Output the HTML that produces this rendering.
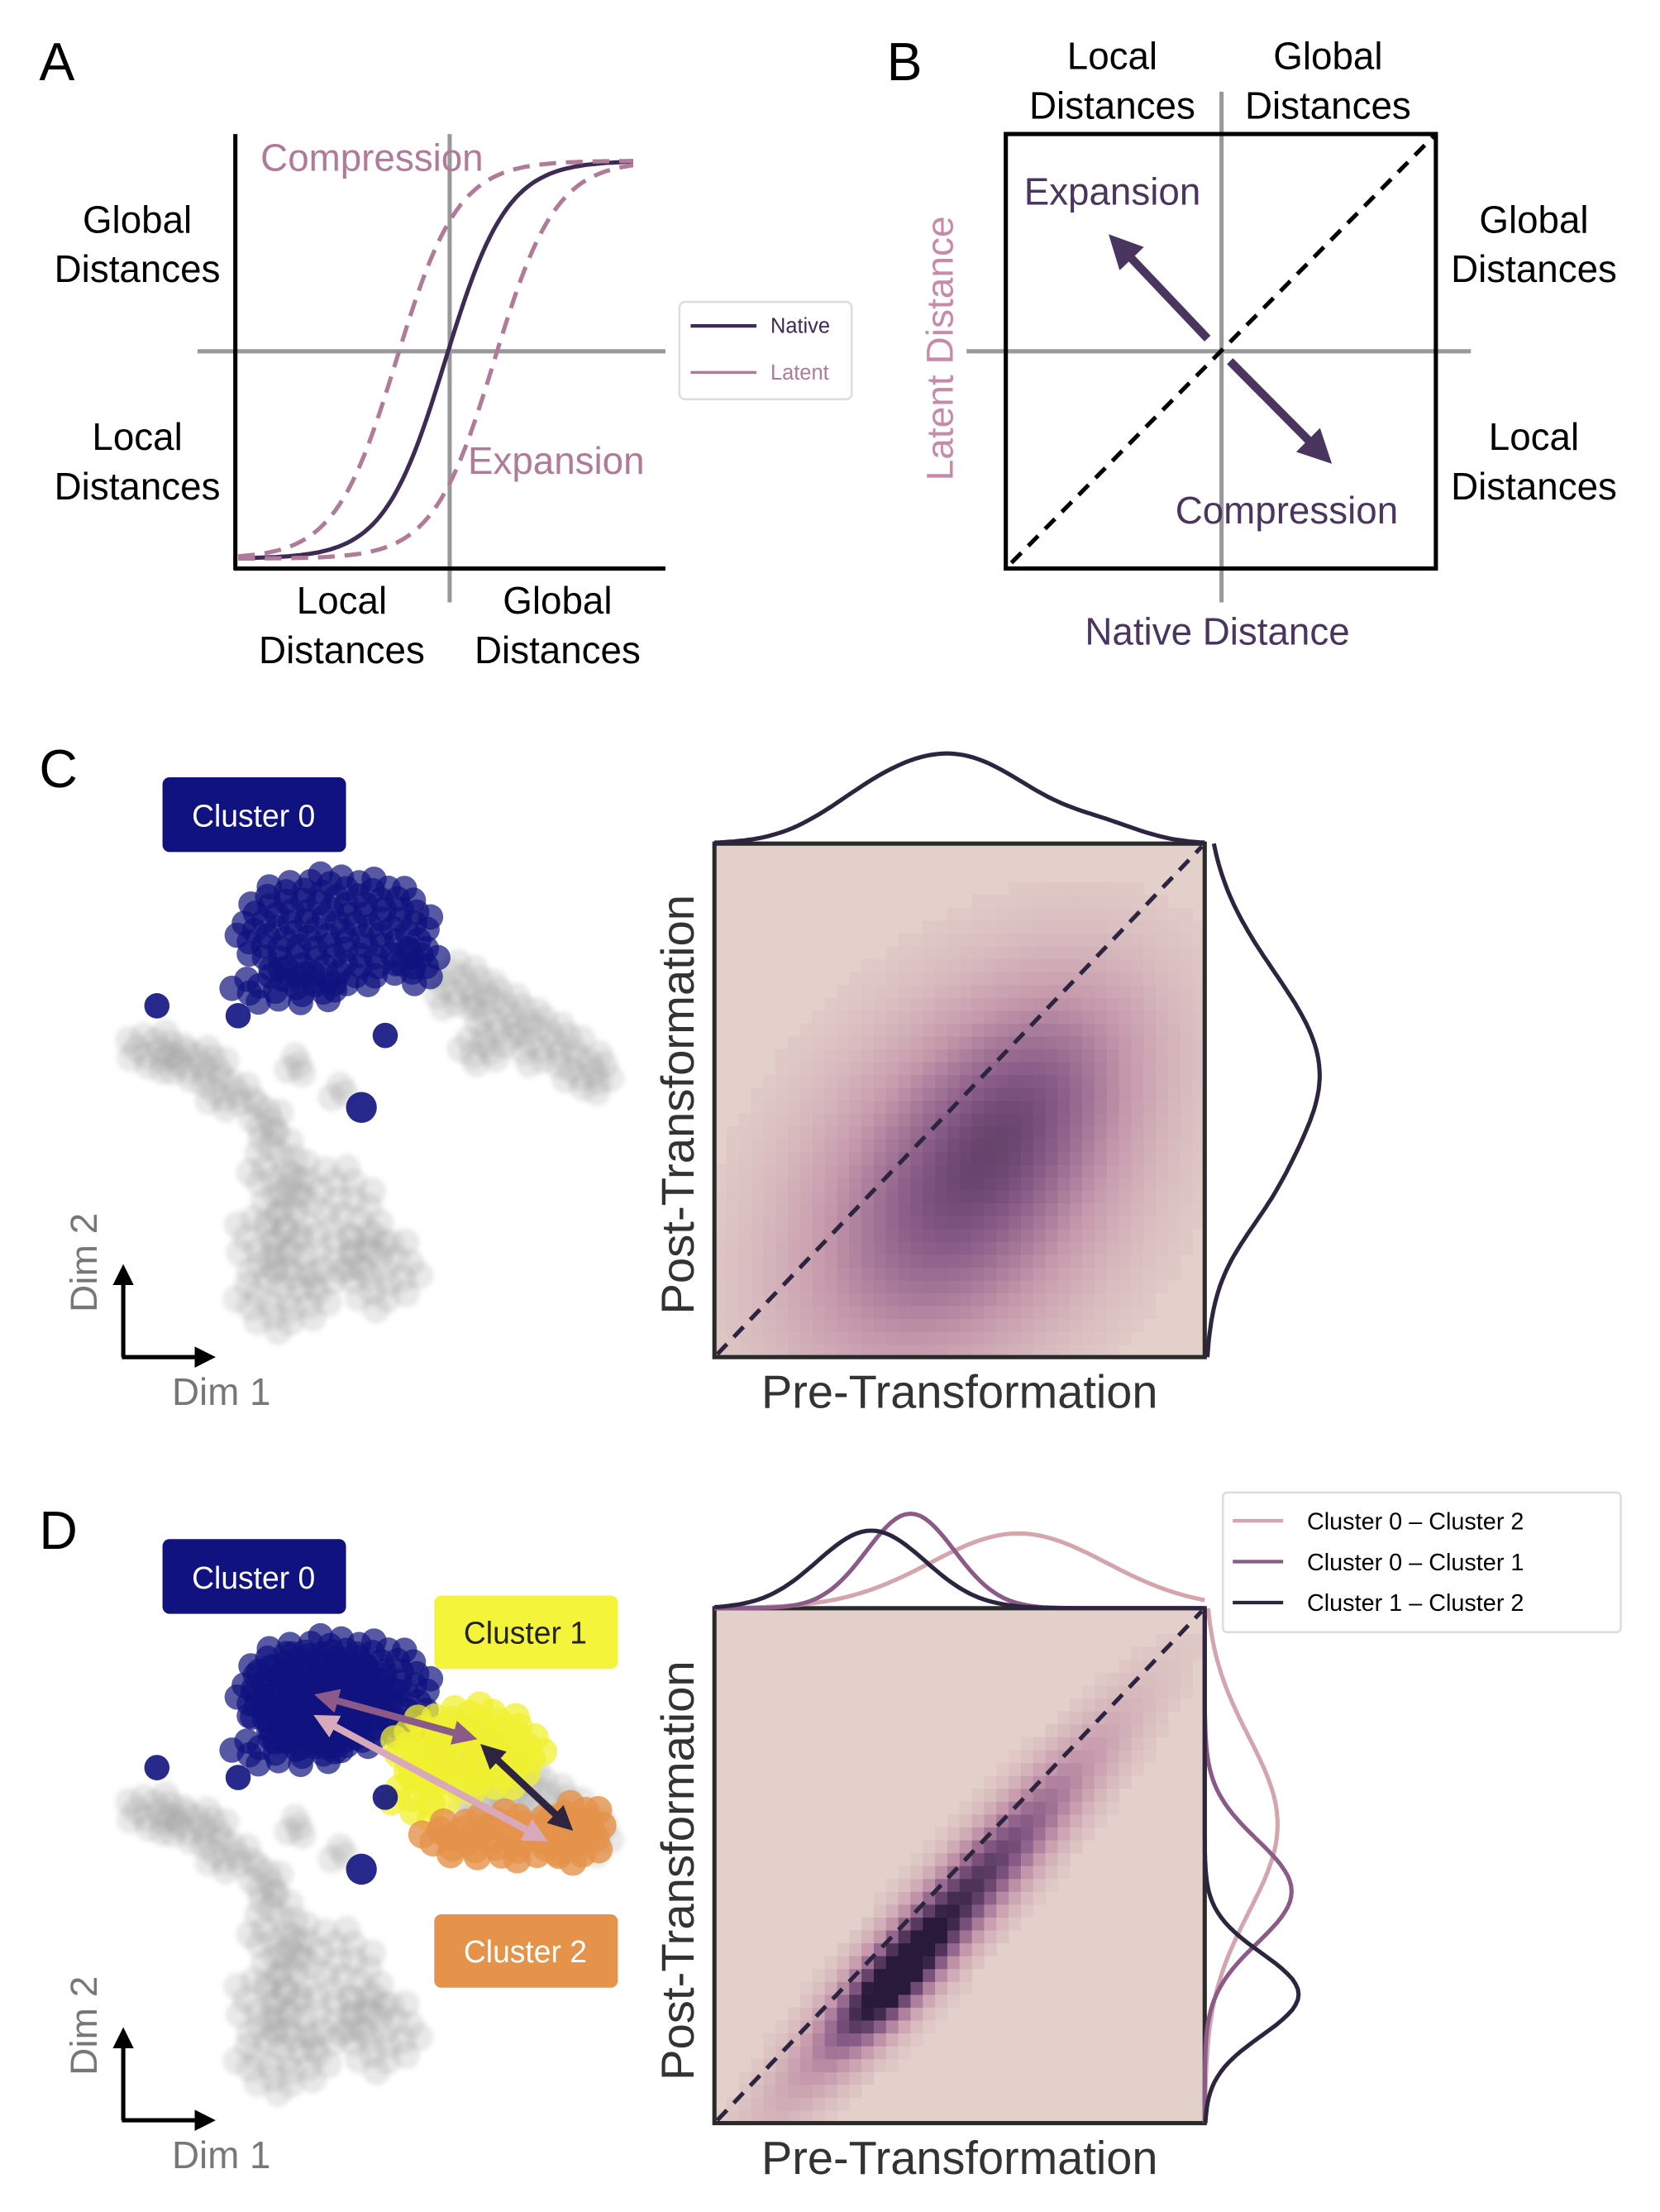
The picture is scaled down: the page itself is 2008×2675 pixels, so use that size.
<!DOCTYPE html>
<html><head><meta charset="utf-8">
<style>
html,body{margin:0;padding:0;background:#fff;}
svg{display:block;font-family:"Liberation Sans",sans-serif;}
</style></head>
<body>
<svg id="fig" width="2008" height="2675" viewBox="0 0 1185 1568" preserveAspectRatio="none" xmlns="http://www.w3.org/2000/svg">
<defs>
<marker id="ahd" viewBox="0 0 10 10" refX="6" refY="5" markerWidth="4" markerHeight="4" orient="auto-start-reverse"><path d="M0,0 L10,5 L0,10 z" fill="#4a3560"/></marker>
<marker id="ahk" viewBox="0 0 10 10" refX="6" refY="5" markerWidth="5" markerHeight="5" orient="auto-start-reverse"><path d="M0,0 L10,5 L0,10 z" fill="#000"/></marker>
<marker id="ap1" viewBox="0 0 10 10" refX="6" refY="5" markerWidth="3.5" markerHeight="3.5" orient="auto-start-reverse"><path d="M0,0 L10,5 L0,10 z" fill="#d8a9bb"/></marker>
<marker id="ap2" viewBox="0 0 10 10" refX="6" refY="5" markerWidth="3.5" markerHeight="3.5" orient="auto-start-reverse"><path d="M0,0 L10,5 L0,10 z" fill="#8b5a88"/></marker>
<marker id="ap3" viewBox="0 0 10 10" refX="6" refY="5" markerWidth="3.5" markerHeight="3.5" orient="auto-start-reverse"><path d="M0,0 L10,5 L0,10 z" fill="#2d2440"/></marker>
<filter id="soft"><feGaussianBlur stdDeviation="1.5"/></filter>
</defs>

<g>
<text x="28" y="57" font-size="38">A</text>
<line x1="321" y1="95" x2="321" y2="427" stroke="#999" stroke-width="3"/>
<line x1="141" y1="249" x2="475" y2="249" stroke="#999" stroke-width="3"/>
<line x1="168" y1="95" x2="168" y2="404" stroke="#000" stroke-width="3"/>
<line x1="167" y1="403" x2="475" y2="403" stroke="#000" stroke-width="3"/>
<g id="acurves"></g>
<text x="186" y="121" font-size="27" fill="#b07a98">Compression</text>
<text x="334" y="336" font-size="27" fill="#b07a98">Expansion</text>
<g font-size="27" text-anchor="middle" fill="#000">
<text x="98" y="165">Global</text>
<text x="98" y="200">Distances</text>
<text x="98" y="319">Local</text>
<text x="98" y="354">Distances</text>
<text x="244" y="435">Local</text>
<text x="244" y="470">Distances</text>
<text x="398" y="435">Global</text>
<text x="398" y="470">Distances</text>
</g>
<g>
<rect x="485" y="214" width="123" height="69" rx="4" fill="#fff" stroke="#ddd" stroke-width="1.5"/>
<line x1="493" y1="231" x2="540" y2="231" stroke="#3d2a55" stroke-width="2.5"/>
<text x="550" y="236" font-size="15" fill="#3d2a55">Native</text>
<line x1="493" y1="264" x2="540" y2="264" stroke="#b07a98" stroke-width="2"/>
<text x="550" y="269" font-size="15" fill="#b07a98">Latent</text>
</g>
</g>

<g>
<text x="633" y="57" font-size="38">B</text>
<line x1="872" y1="65" x2="872" y2="427" stroke="#999" stroke-width="3"/>
<line x1="690" y1="249" x2="1050" y2="249" stroke="#999" stroke-width="3"/>
<rect x="718" y="95" width="307" height="308" fill="none" stroke="#000" stroke-width="3"/>
<line x1="722" y1="399" x2="1024" y2="96" stroke="#000" stroke-width="3" stroke-dasharray="10,7"/>
<line x1="862" y1="240" x2="798" y2="173" stroke="#4a3560" stroke-width="6" marker-end="url(#ahd)"/>
<line x1="878" y1="256" x2="944" y2="322" stroke="#4a3560" stroke-width="6" marker-end="url(#ahd)"/>
<g font-size="27" text-anchor="middle">
<text x="794" y="49">Local</text>
<text x="794" y="84">Distances</text>
<text x="948" y="49">Global</text>
<text x="948" y="84">Distances</text>
<text x="1095" y="165">Global</text>
<text x="1095" y="200">Distances</text>
<text x="1095" y="319">Local</text>
<text x="1095" y="354">Distances</text>
<text x="869" y="457" fill="#4a3560">Native Distance</text>
<text transform="translate(680,247) rotate(-90)" fill="#c98aaa">Latent Distance</text>
</g>
<text x="731" y="145" font-size="27" fill="#4a3560">Expansion</text>
<text x="839" y="371" font-size="27" fill="#4a3560">Compression</text>
</g>

<g>
<text x="28" y="558" font-size="38">C</text>
<g id="scatC"></g>
<rect x="116" y="551" width="131" height="53" rx="5" fill="#10137f"/>
<text x="181" y="586" font-size="22" fill="#fff" text-anchor="middle">Cluster 0</text>
<g>
<line x1="88" y1="962" x2="88" y2="902" stroke="#000" stroke-width="3" marker-end="url(#ahk)"/>
<line x1="87" y1="962" x2="148" y2="962" stroke="#000" stroke-width="3" marker-end="url(#ahk)"/>
<text transform="translate(69,895) rotate(-90)" font-size="27" fill="#777" text-anchor="middle">Dim 2</text>
<text x="158" y="996" font-size="27" fill="#777" text-anchor="middle">Dim 1</text>
</g>
<g id="heatC"></g>
<text x="685" y="998" font-size="33" text-anchor="middle" fill="#333">Pre-Transformation</text>
<text transform="translate(495,783) rotate(-90)" font-size="33" text-anchor="middle" fill="#333">Post-Transformation</text>
</g>

<g>
<text x="28" y="1098" font-size="38">D</text>
<g id="scatD"></g>
<line x1="231" y1="1203" x2="334" y2="1231" stroke="#8b5a88" stroke-width="5" marker-start="url(#ap2)" marker-end="url(#ap2)"/>
<line x1="230" y1="1219" x2="385" y2="1302" stroke="#d8a9bb" stroke-width="5" marker-start="url(#ap1)" marker-end="url(#ap1)"/>
<line x1="348" y1="1241" x2="404" y2="1293" stroke="#2d2440" stroke-width="5" marker-start="url(#ap3)" marker-end="url(#ap3)"/>
<rect x="116" y="1091" width="131" height="53" rx="5" fill="#10137f"/>
<text x="181" y="1126" font-size="22" fill="#fff" text-anchor="middle">Cluster 0</text>
<rect x="310" y="1131" width="131" height="52" rx="5" fill="#f4f53a"/>
<text x="375" y="1165" font-size="22" fill="#222" text-anchor="middle">Cluster 1</text>
<rect x="310" y="1357" width="131" height="52" rx="5" fill="#e5924a"/>
<text x="375" y="1391" font-size="22" fill="#fff" text-anchor="middle">Cluster 2</text>
<g>
<line x1="88" y1="1503" x2="88" y2="1443" stroke="#000" stroke-width="3" marker-end="url(#ahk)"/>
<line x1="87" y1="1503" x2="148" y2="1503" stroke="#000" stroke-width="3" marker-end="url(#ahk)"/>
<text transform="translate(69,1436) rotate(-90)" font-size="27" fill="#777" text-anchor="middle">Dim 2</text>
<text x="158" y="1537" font-size="27" fill="#777" text-anchor="middle">Dim 1</text>
</g>
<g id="heatD"></g>
<text x="685" y="1541" font-size="33" text-anchor="middle" fill="#333">Pre-Transformation</text>
<text transform="translate(495,1326) rotate(-90)" font-size="33" text-anchor="middle" fill="#333">Post-Transformation</text>
<g>
<rect x="873" y="1058" width="284" height="99" rx="3" fill="#fff" stroke="#ddd" stroke-width="1.5"/>
<line x1="880" y1="1078" x2="916" y2="1078" stroke="#d4a5ad" stroke-width="2.5"/>
<text x="933" y="1084" font-size="17">Cluster 0 – Cluster 2</text>
<line x1="880" y1="1107" x2="916" y2="1107" stroke="#8b5a88" stroke-width="2.5"/>
<text x="933" y="1113" font-size="17">Cluster 0 – Cluster 1</text>
<line x1="880" y1="1136" x2="916" y2="1136" stroke="#2d2440" stroke-width="2.5"/>
<text x="933" y="1142" font-size="17">Cluster 1 – Cluster 2</text>
</g>
</g>
</svg>
<script>
const sigmoidCenters = [318, 283, 353];
const sigmoidSteep = [22, 22, 22];
const sigmoidNames = ['native-curve','latent-compression-curve','latent-expansion-curve'];
const grayBlobs = [[110,745,22,16,14],[140,755,22,15,14],[165,775,18,14,10],[190,795,14,14,8],
  [330,700,25,18,16],[360,720,26,18,16],[392,740,26,18,16],[420,760,20,15,12],[345,745,22,10,8],
  [200,830,22,30,18],[232,870,45,45,45],[200,920,35,25,22],[270,900,30,30,22],[190,880,25,25,14],
  [210,755,10,8,4],[242,775,10,6,3]];
const blueBlobs = [[240,660,72,42,110],[205,700,40,14,18],[300,685,18,14,8]];
const blueSingles = [[112,713],[170,720],[275,734],[258,785]];
const yellowBlobs = [[335,1240,55,32,60],[300,1270,25,20,12]];
const orangeBlobs = [[360,1302,60,18,40],[410,1298,25,22,20]];
const densC = [[0.50,0.32,0.28,0.19,50,1.0],[0.68,0.55,0.18,0.13,45,0.35]];
const densD = [[0.48,0.41,0.30,0.05,47,1.0],[0.36,0.27,0.10,0.04,47,0.6]];
const peakC = 0.68, peakD = 0.88;
const margTopC = [[0.49,0.16,62],[0.30,0.10,10],[0.80,0.08,8]];
const margRightC = [[0.55,0.20,82],[0.30,0.08,8]];
const margTopD = [[[0.62,0.18,53]],[[0.40,0.09,67]],[[0.32,0.11,55]]];
const margRightD = [[[0.58,0.17,52]],[[0.45,0.10,62]],[[0.25,0.08,67]]];
const margColors = ['#d4a5ad','#8b5a88','#2d2440'];

const NS='http://www.w3.org/2000/svg';
function mk(tag, attrs, parent){const e=document.createElementNS(NS,tag);for(const k in attrs)e.setAttribute(k,attrs[k]);parent.appendChild(e);return e;}

const ac=document.getElementById('acurves');
const ay=v=>396-282*v;
sigmoidCenters.forEach((c,i)=>{
  let d='';
  for(let x=170;x<=452;x+=3){const v=1/(1+Math.exp(-(x-c)/sigmoidSteep[i]));d+=(x===170?'M':'L')+x+','+ay(v).toFixed(1);}
  const p=mk('path',{d:d,fill:'none',stroke:i===0?'#3d2a55':'#b07a98','stroke-width':3,'stroke-dasharray':i===0?'none':'12,7'},ac);
  
  
});

function blobPoints(b){const pts=[];const [cx,cy,rx,ry,n]=b;for(let k=0;k<n;k++){const r=Math.sqrt((k+0.5)/n);const a=k*2.39996;pts.push([cx+rx*r*Math.cos(a),cy+ry*r*Math.sin(a)]);}return pts;}
function drawBlobs(g,blobs,dy,fill,op,r,name){
  blobs.forEach(b=>{blobPoints([b[0],b[1]+dy,b[2],b[3],b[4]]).forEach(p=>{
    const c=mk('circle',{cx:p[0].toFixed(1),cy:p[1].toFixed(1),r:r,fill:fill,'fill-opacity':op},g);
    
    
  });});
}
const sc=document.getElementById('scatC'), sd=document.getElementById('scatD');
const gC=mk('g',{filter:'url(#soft)'},sc), gD=mk('g',{filter:'url(#soft)'},sd);
drawBlobs(gC,grayBlobs,0,'#9a9a9a',0.22,10,'gray-point');
drawBlobs(gD,grayBlobs,540,'#9a9a9a',0.22,10,'gray-point');
drawBlobs(sc,blueBlobs,0,'#10137f',0.7,9,'cluster0-point');
drawBlobs(sd,blueBlobs.slice(0,2),540,'#10137f',0.7,9,'cluster0-point');
drawBlobs(sd,[[230,1205,55,38,70]],0,'#10137f',0.7,9,'cluster0-point');
drawBlobs(sd,yellowBlobs,0,'#f0f030',0.75,10,'cluster1-point');
drawBlobs(sd,orangeBlobs,0,'#e5924a',0.8,10,'cluster2-point');
[[sc,0],[sd,540]].forEach(([g,dy])=>blueSingles.forEach((p,i)=>{
  const c=mk('circle',{cx:p[0],cy:p[1]+dy,r:i===3?11:9,fill:'#10137f','fill-opacity':0.9},g);
  
  
}));

function col(t){
  const stops=[[0,[227,208,202]],[0.35,[196,150,170]],[0.65,[135,90,135]],[1,[42,26,58]]];
  t=Math.max(0,Math.min(1,t));
  for(let i=1;i<stops.length;i++){if(t<=stops[i][0]){const a=stops[i-1],b=stops[i];const f=(t-a[0])/(b[0]-a[0]);return 'rgb('+a[1].map((v,j)=>Math.round(v+(b[1][j]-v)*f)).join(',')+')';}}
}
function dens(comps,u,v){let s=0;comps.forEach(c=>{const a=c[4]*Math.PI/180;const du=u-c[0],dv=v-c[1];const p=du*Math.cos(a)+dv*Math.sin(a),q=-du*Math.sin(a)+dv*Math.cos(a);s+=c[5]*Math.exp(-0.5*(p*p/(c[2]*c[2])+q*q/(c[3]*c[3])));});return s;}
function heat(id,x0,y0,w,h,comps,peak,margTop,margRight,multi){
  const g=document.getElementById(id);
  const N=40, cw=w/N, ch=h/N;
  const sx=u=>x0+u*w, sy=v=>y0+h-v*h;
  mk('rect',{x:x0,y:y0,width:w,height:h,fill:col(0)},g);
  for(let i=0;i<N;i++)for(let j=0;j<N;j++){
    const u=(i+0.5)/N,v=(j+0.5)/N;const t=dens(comps,u,v)*peak;
    if(t<0.04)continue;
    const r=mk('rect',{x:sx(i/N).toFixed(2),y:(sy((j+1)/N)).toFixed(2),width:(cw+0.3).toFixed(2),height:(ch+0.3).toFixed(2),fill:col(t)},g);
    
    
  }
  const dl=mk('line',{x1:x0+2,y1:y0+h-2,x2:x0+w-2,y2:y0+2,stroke:'#2d2440','stroke-width':3,'stroke-dasharray':'10,7'},g);
  
  
  const fr=mk('rect',{x:x0,y:y0,width:w,height:h,fill:'none',stroke:'#2a2a2a','stroke-width':3},g);
  
  
  const sets=multi?margTop:[margTop], setsR=multi?margRight:[margRight];
  sets.forEach((comp,k)=>{
    let d='';for(let s=0;s<=100;s++){const u=s/100;let hh=0;comp.forEach(c=>hh+=c[2]*Math.exp(-0.5*((u-c[0])/c[1])**2));d+=(s?'L':'M')+sx(u).toFixed(1)+','+(y0-hh).toFixed(1);}
    const p=mk('path',{d:d,fill:'none',stroke:multi?margColors[k]:'#2d2440','stroke-width':3},g);
    
    
  });
  setsR.forEach((comp,k)=>{
    let d='';for(let s=0;s<=100;s++){const v=s/100;let hh=0;comp.forEach(c=>hh+=c[2]*Math.exp(-0.5*((v-c[0])/c[1])**2));d+=(s?'L':'M')+(x0+w+hh).toFixed(1)+','+sy(v).toFixed(1);}
    const p=mk('path',{d:d,fill:'none',stroke:multi?margColors[k]:'#2d2440','stroke-width':3},g);
    
    
  });
}
heat('heatC',510,598,350,364,densC,peakC,margTopC,margRightC,false);
heat('heatD',510,1140,350,365,densD,peakD,margTopD,margRightD,true);
</script>
</body></html>
